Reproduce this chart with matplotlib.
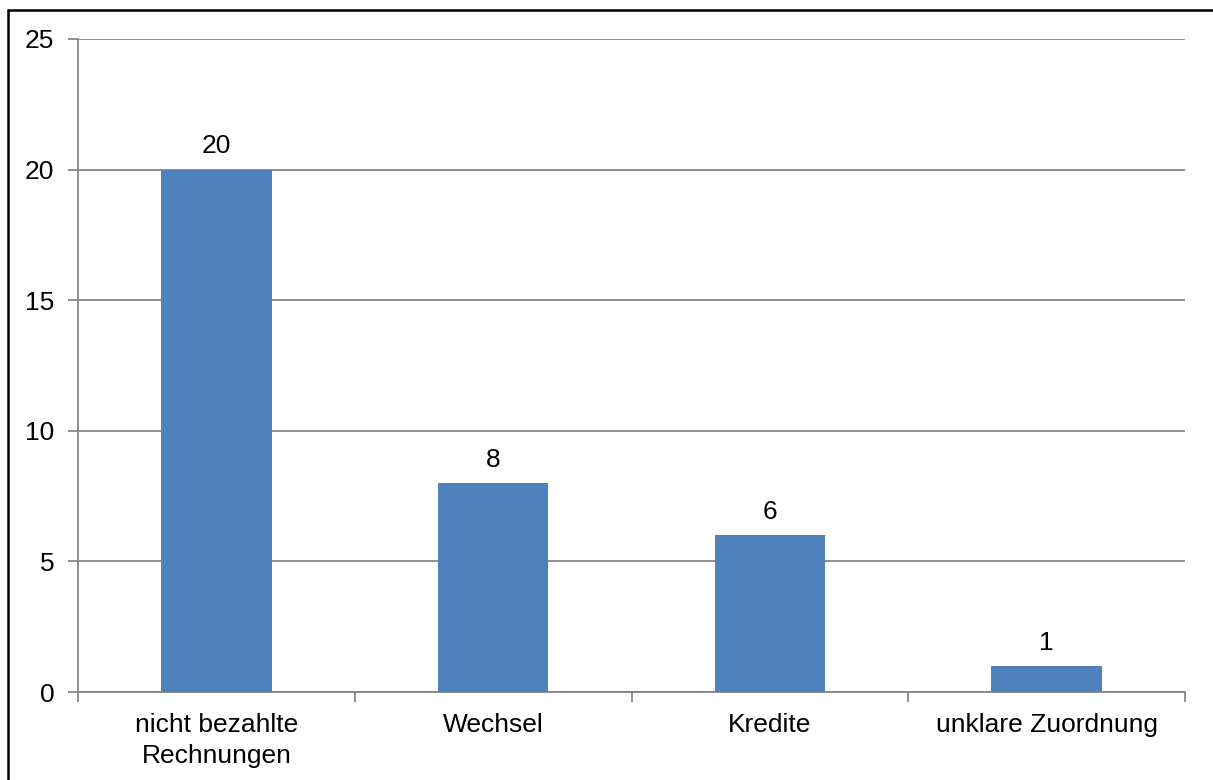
import matplotlib
matplotlib.use("Agg")
import matplotlib.pyplot as plt
from matplotlib.patches import Rectangle
import numpy as np

categories = ["nicht bezahlte\nRechnungen", "Wechsel", "Kredite", "unklare Zuordnung"]
counts = [20, 8, 6, 1]
y_ticks = [0, 5, 10, 15, 20, 25]

BAR_COLOR = "#4F81BD"
AXIS_GRAY = "#868686"
FS = 19

plt.rcParams["font.family"] = ["Liberation Sans", "DejaVu Sans"]

fig = plt.figure(figsize=(12.13, 7.8), dpi=100)
ax = fig.add_axes([78 / 1213, 1 - 692 / 780, (1185 - 78) / 1213, (692 - 39) / 780])

x = np.arange(len(categories))
bars = ax.bar(x, counts, width=0.4, color=BAR_COLOR, zorder=3)
for b, v in zip(bars, counts):
    ax.annotate(str(v), (b.get_x() + b.get_width() / 2, v), xytext=(0, 8),
                textcoords="offset points", ha="center", va="bottom", fontsize=FS)

ax.set_xlim(-0.5, len(categories) - 0.5)
ax.set_ylim(0, 25)
ax.set_yticks(y_ticks)
ax.yaxis.grid(True, color=AXIS_GRAY, linewidth=1.3, zorder=0)

# category labels centred, tick marks on the boundaries between categories
ax.set_xticks(x)
ax.set_xticklabels(categories, fontsize=FS, linespacing=1.4)
ax.set_xticks(np.arange(len(categories) + 1) - 0.5, minor=True)
ax.tick_params(axis="x", which="major", length=0, pad=15)
ax.tick_params(axis="x", which="minor", length=7, width=1.3, color=AXIS_GRAY)
ax.tick_params(axis="y", length=7, width=1.3, color=AXIS_GRAY, labelsize=FS, pad=10)

for side in ("top", "right"):
    ax.spines[side].set_visible(False)
for side in ("left", "bottom"):
    ax.spines[side].set_color(AXIS_GRAY)
    ax.spines[side].set_linewidth(1.3)

# outer frame around the chart area
fig.patches.append(Rectangle((8 / 1213, -0.02), 1.1, 1 - 10 / 780 + 0.02,
                             transform=fig.transFigure, fill=False,
                             edgecolor="black", linewidth=1.8))

fig.savefig("out.png", dpi=100)
